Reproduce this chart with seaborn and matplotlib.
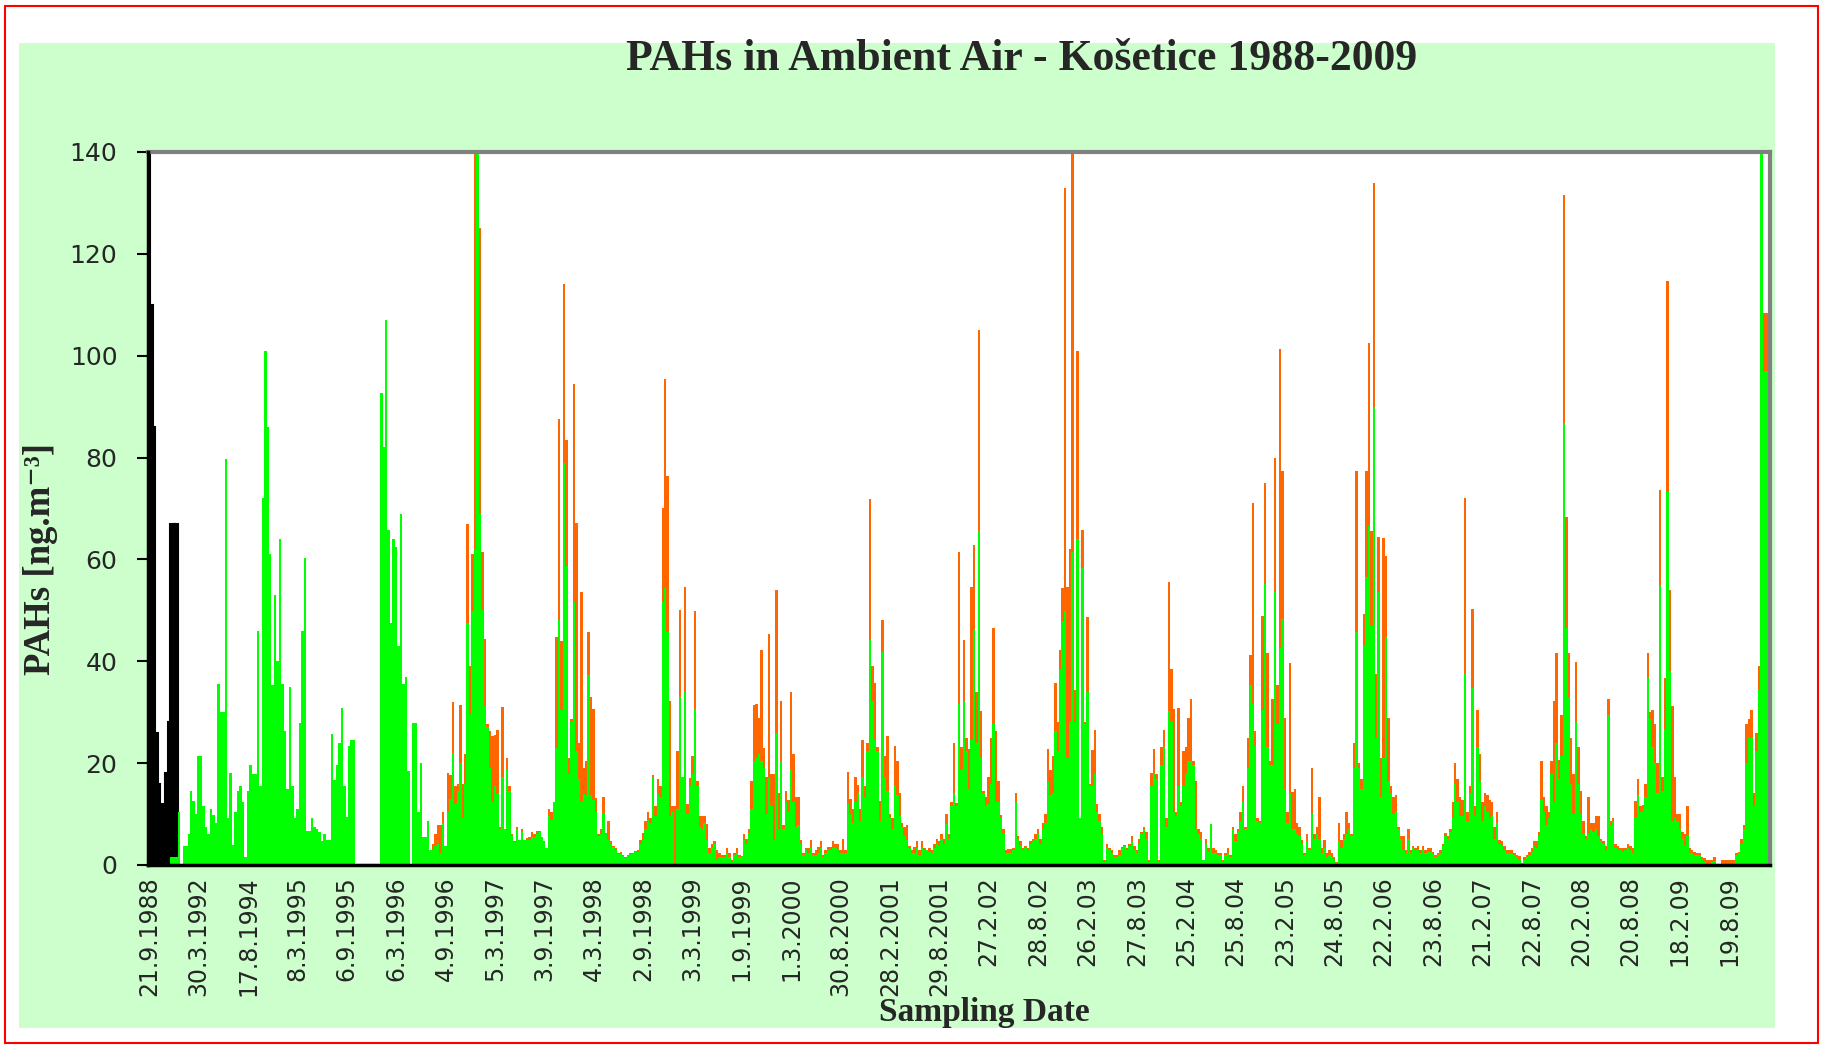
import numpy as np
import pandas as pd
import matplotlib
matplotlib.use("Agg")
import matplotlib.pyplot as plt
import seaborn as sns
from matplotlib.patches import Rectangle

# ---------------------------------------------------------------------------
# PAH concentrations [ng/m3], one value per sample (categorical sample axis)
# ---------------------------------------------------------------------------

# early campaign (1988-1992), shown in black
black_1988 = [150, 110, 86, 26, 16, 12, 11, 18, 28, 67, 67, 67]

# green series, 1988 - autumn 1996 (no orange series in this period)
green_1988_1996 = [0, 0, 0, 0, 0, 0, 0, 0, 0, 1.5, 1.5, 1.5,
    10.5, 0, 3.8, 3.8, 6, 14.6, 12.5, 10, 21.4, 21.4,
    11.6, 7.4, 6, 11, 9.8, 8.3, 35.5, 30, 30, 79.8,
    9.2, 18, 4, 10.5, 14.6, 15.5, 12.3, 1.5, 14.6, 19.6,
    17.8, 17.8, 46, 15.5, 72, 101, 86, 61, 35.3, 53,
    40, 64, 35.5, 26.3, 14.9, 35, 15.5, 9.2, 11, 27.9,
    46, 60.3, 6.7, 6.7, 9.2, 7.4, 7, 6.5, 4.7, 6,
    5, 5, 25.7, 16.7, 19.6, 24, 30.8, 15.5, 9.4, 23.4,
    24.5, 24.5, 0, 0, 0, 0, 0, 0, 0, 0, 0, 0,
    92.6, 82, 107, 65.7, 47.5, 64, 62.4, 43, 69, 35.6,
    37, 18.5, 0, 27.9, 27.9, 10.5]

orange_1996_1998 = [0, 0, 0, 0, 0, 4.2, 6, 7.8, 7.8, 10.5,
    3.8, 18, 17.6, 32, 15.5, 16, 31.5, 16, 21.8, 67,
    39, 61, 145, 145, 125, 61.4, 44.4, 27.7, 26.3, 25.4,
    25.5, 26.6, 7.4, 31, 7, 21, 15.5, 6, 4.7, 7.4,
    5, 7, 5, 5.3, 5.5, 6.5,
    6, 6.7, 6.7, 5.5, 4.7, 3.3, 11, 10.4, 12.3, 44.8,
    87.6, 44, 114, 83.4, 21, 28.6, 94.4, 67.2, 24, 53.7,
    19, 20.5, 45.7, 33, 30.6, 13.2, 6, 7, 13.4, 6.2,
    8.6, 4.7, 3.8, 3.3, 2.4, 2.6, 2,
    1.5, 2, 2.4, 2.4, 2.7, 2.9, 5, 6.2, 8.7, 10.5,
    9.2, 17.6, 11.5, 16.9, 15.5, 70, 95.5, 76.4, 32.2, 11.5,
    11.5, 22.3, 50, 17.3, 54.5]
green_1996_1998 = [20, 5.4, 5.4, 8.7, 2.9, 3, 3.8, 4.2, 2.4, 8.3,
    3.8, 10.5, 13, 22, 12, 14.6, 20, 9.2, 16, 47.5,
    29.7, 49.8, 62, 145, 69, 50, 31.3, 27, 19, 12.3,
    15.5, 14, 7, 17.3, 7, 18.7, 14.6, 5.6, 4.5, 7,
    5, 6.5, 5, 5, 5, 5.5,
    5.5, 6, 6.5, 5.5, 4.5, 3.3, 9.7, 8.8, 12.3, 23,
    48.2, 30.4, 79, 58.8, 17.8, 28, 51.6, 22.3, 16.9, 12.3,
    14, 13.7, 37.4, 13.7, 12.8, 10.5, 5.6, 6, 10, 6,
    5, 4.2, 3.5, 3, 2.2, 2.4, 1.8,
    1.4, 1.8, 2.2, 2.2, 2.5, 2.6, 4.2, 5, 7, 8.9,
    8.3, 17.3, 9.7, 14, 13.3, 51.6, 54.3, 45.7, 9.7, 10.5,
    0, 11, 33, 17.3, 34]

orange_1999_2001 = [11.9, 17, 21.4, 49.8, 16.4, 9.6, 9.6, 9.6, 8, 3.3,
    4.2, 4.7, 2.9, 2.4, 2, 2,
    3.3, 2.4, 1, 2.4, 3.3, 2, 1.8, 6, 5.1, 7,
    16.4, 31.5, 31.7, 28.8, 42.3, 23, 17.3, 45.3, 17.8, 17.8,
    54, 14.2, 32.2, 7.8, 14.6, 12.8, 34, 21.8, 13.4, 13.3,
    5, 2.4, 3.3, 3.3, 5, 2.4, 2.9, 3.5, 4.7, 2,
    2.9, 3.5, 3.5, 4.7, 4.2, 4.2, 2.9, 5.1, 2.9,
    18.2, 13, 11, 17.3, 15.8, 11, 24.5, 15.5, 24, 71.9,
    39, 35.8, 23.2, 12.5, 48.2, 21.4, 25.4, 10, 9.2, 23.4,
    20.5, 14.2, 8.3, 7.4, 7.8, 3.8, 2.9, 3.5, 4.7, 2.9,
    4.7, 3.3, 3, 3.3, 2.9, 4.2, 5.1, 4.7, 6, 5.1,
    10, 6, 12.3, 23.9, 12.2]
green_1999_2001 = [10, 15.5, 17.8, 30.6, 15.5, 7.4, 7, 8.3, 5, 2.4,
    3.3, 4.2, 1, 1.5, 1.5, 1.5,
    2.4, 1.5, 0.6, 2, 2.4, 1.5, 1.7, 5, 4.2, 6.2,
    11, 20.5, 21, 21.8, 20.5, 19, 10, 17, 11.5, 5,
    25.9, 7, 20.5, 7, 12.3, 10.5, 18.7, 12.3, 7.4, 7.8,
    4.2, 2, 2.9, 2.4, 3.3, 2, 2, 2.4, 3.3, 1.5,
    2.4, 2.9, 2.9, 3.3, 3.3, 2.9, 2.4, 2.4, 2.4,
    11.9, 10, 8.3, 12.3, 14.2, 8.7, 17.3, 13.3, 22.3, 44.1,
    32.2, 24.5, 22.3, 8.7, 41.9, 17.3, 14.6, 9.2, 7, 15.5,
    13.7, 9.6, 7.4, 5.6, 5, 3.3, 2.4, 2.4, 3.3, 2,
    3.3, 2.9, 2.9, 2.6, 2.4, 3.3, 4.2, 3.8, 5.1, 4.2,
    8, 5.1, 11.5, 14.2, 11.5]

orange_2002_2004 = [61.5, 23.2, 44.1, 25, 22.7, 54.5, 62.8, 34, 105, 30.2,
    14.6, 13.3, 17.3, 25, 46.6, 26.3, 16.4, 9.8, 7, 2.9,
    3.1, 3.1, 3.3, 14.2, 5.6, 4.7, 3.3, 3.8, 3.3, 4.7,
    5.1, 6, 7, 5.1, 8.3, 10, 22.7, 18.7, 21.4, 35.8,
    28.1, 42.3, 54.3, 133, 54.5, 62, 145, 34.4, 101, 9.2,
    65.7, 28.1, 48.6, 16, 22.5, 26.6, 11.9, 10, 7.4, 1,
    4.2, 3.3, 2.9, 2, 2, 2.9, 3.5, 4, 3.3, 4.2,
    5.6, 3.8, 2.9, 5.1, 6.5, 7.4, 6.5, 1, 18, 22.7,
    17.8, 1, 23.2, 26.6, 9.2, 55.6, 38.5, 30.6, 10.5, 30.8,
    12.3, 22.3, 23.2, 28.8, 32.6, 20.5, 16.4, 7, 6.5, 1,
    5.1, 3.3, 8, 3.3, 2.9, 2.4, 2.4, 1, 2.4, 3.3]
green_2002_2004 = [31.7, 18.7, 32.2, 22.3, 15, 24.5, 46.2, 24, 65.6, 21,
    14.2, 11.5, 12, 16, 27.7, 12.3, 12.3, 9.2, 6, 2.4,
    2.4, 2.4, 2.9, 12.3, 5.1, 3.8, 2.9, 3.3, 2.9, 4.2,
    4.7, 5.1, 6, 4.2, 7, 8.3, 16.4, 13.7, 14.2, 26.3,
    22.3, 38.5, 48, 49.8, 21, 28.1, 61.5, 28.1, 64, 9.2,
    58.3, 27.7, 34, 15.5, 15.5, 17.8, 10.5, 8.7, 6, 0.6,
    3.3, 2.9, 2.4, 1.5, 1.5, 2, 3.3, 3.8, 2.9, 3.8,
    4.7, 2.9, 2.4, 4.2, 6, 7, 5.1, 0.6, 15.5, 18,
    16.9, 0.6, 19.6, 23.2, 7.4, 30.2, 28.1, 10.5, 9.6, 15.5,
    11.5, 15.5, 17.8, 20.5, 20.5, 19.6, 7, 6, 5.1, 1,
    4.2, 2.6, 8, 2.4, 2.4, 2, 2, 0.6, 2, 2.4]

orange_2005_2007 = [2, 7.4, 6, 7, 10.5, 15.5, 7.4, 25, 41.2, 71,
    26.3, 9.2, 8.7, 48.9, 75, 41.7, 20.5, 32.6, 80, 35.3,
    101.4, 77.3, 28.8, 10.5, 39.6, 14.3, 15, 8.3, 7.4, 5,
    2.4, 6, 3.3, 19, 6, 7.4, 13.3, 3.3, 5, 2.4,
    2.9, 2.4, 1.5, 0.6, 8.3, 5, 6, 10.5, 8.3, 6,
    24, 77.3, 20, 16.9, 49.3, 77.3, 102.5, 65.6, 134, 37.6,
    64.5, 21, 64.2, 60.6, 28.8, 15.5, 13.3, 13.7, 7.4, 5.6,
    5.6, 2.9, 7, 2.9, 3.8, 3.3, 3.8, 2.9, 3.8, 2.9,
    3.3, 3.3, 2.6, 2, 2.4, 2.9, 4.2, 6.2, 5.6, 7,
    12.3, 20, 16.9, 13.3, 12.8, 72, 10.5, 15.5, 50.2, 11.5,
    30.4, 21.8, 12.3, 14.2, 13.7, 12.8, 12.3, 7.4]
green_2005_2007 = [1.5, 7, 4.7, 6.5, 8.7, 12.3, 7, 19, 35.3, 31.7,
    23.4, 8.7, 8.3, 30.4, 55.2, 23.2, 19.6, 19.6, 53.7, 27.7,
    42.6, 48.4, 15, 8.3, 14.2, 7, 7, 6, 5.6, 4.2,
    2, 4.7, 2.9, 10, 5.1, 6, 5.1, 2.4, 3.3, 1.5,
    2, 1.5, 1, 0.4, 4.7, 3.3, 5.1, 6, 7, 5.6,
    19, 45.7, 19, 15, 43, 56.5, 66.5, 47, 90, 25,
    53.7, 13.3, 21, 44.8, 16.4, 14.2, 10, 10.5, 7, 5.1,
    2.9, 2.4, 5.1, 2.4, 3.3, 2.9, 2.9, 2.4, 2.9, 2.4,
    2.6, 2.6, 2.2, 1.5, 2, 2.4, 3.8, 5.6, 5.1, 6.5,
    9.2, 16, 12.3, 9.6, 9.6, 37.6, 8.7, 14.2, 34.7, 9.7,
    23.2, 16.4, 8.7, 11.5, 10.5, 9.2, 9.6, 5.1]

orange_2007_2009 = [10.5, 5, 4.7, 3.8, 2.9, 2.9, 2.9, 2.4, 2, 1.7,
    0.3, 1.5, 2, 2.6, 3.3, 4.7, 4.7, 6.5, 20.5, 13.3,
    11.5, 10.5, 20.5, 32.2, 41.7, 20.6, 29.5, 131.6, 68.3, 41.7,
    25, 17.8, 39.9, 23.2, 14.6, 8.7, 5.6, 13.3, 8.3, 8.3,
    9.6, 9.6, 5.1, 4.7, 3.8, 32.6, 8.7, 9.2, 4.2, 3.8,
    3.3, 3.3, 3.3, 4.2, 3.8, 3.3, 12.5, 16.9, 11.5, 11.7,
    16, 41.7, 30, 30.4, 27.7, 20, 73.7, 17.3, 36.7, 114.7,
    54, 31.3, 17.3, 10.1, 10.1, 6.5, 6, 11.5, 3.3, 2.9,
    2.6, 2.4, 2.4, 1.5, 1.4, 1, 1, 1, 1.5, 0,
    0, 1, 1, 1, 1, 1, 1, 2.4, 2.6, 5.1,
    7.8, 27.7, 28.6, 30.4, 14.2, 25.9, 39, 145, 108.4, 108.4,
    108.4]
green_2007_2009 = [8.3, 4.2, 3.8, 2.9, 2.4, 2.4, 2.2, 2, 1.5, 1,
    0.2, 1, 1.5, 2, 2.6, 3.8, 3.3, 5.6, 12.8, 10.5,
    7.8, 9.2, 17.8, 12.3, 24, 16.9, 21.4, 86.7, 46.6, 33,
    16, 10, 28.1, 16, 10, 6, 5.1, 6, 7, 6.5,
    7, 5.6, 4.7, 4.2, 2.9, 29.5, 7.8, 8.7, 3.3, 2.9,
    2.9, 2.6, 2.9, 3.3, 2.9, 2.4, 9.2, 13.7, 10.5, 10.5,
    13.3, 36.7, 28.6, 23.2, 20, 14.2, 54.9, 14.6, 26.8, 73.2,
    38, 8.7, 9.2, 8.7, 7, 5.1, 3.8, 5.6, 2.4, 2.4,
    2, 2, 2, 1, 0.6, 0, 0, 0.6, 0.8, 0,
    0, 0, 0, 0, 0, 0, 0.2, 2, 2.4, 4.2,
    7, 20, 25, 25, 11.5, 22.3, 34.4, 145, 97, 97,
    97]

# sampling-date labels, one every 20 samples
date_labels = ["21.9.1988", "30.3.1992", "17.8.1994", "8.3.1995", "6.9.1995",
    "6.3.1996", "4.9.1996", "5.3.1997", "3.9.1997", "4.3.1998", "2.9.1998",
    "3.3.1999", "1.9.1999", "1.3.2000", "30.8.2000", "28.2.2001", "29.8.2001",
    "27.2.02", "28.8.02", "26.2.03", "27.8.03", "25.2.04", "25.8.04",
    "23.2.05", "24.8.05", "22.2.06", "23.8.06", "21.2.07", "22.8.07",
    "20.2.08", "20.8.08", "18.2.09", "19.8.09"]
label_step = 20

# ---------------------------------------------------------------------------
# assemble the sample table
# ---------------------------------------------------------------------------
green = np.concatenate([green_1988_1996, green_1996_1998, green_1999_2001,
                        green_2002_2004, green_2005_2007, green_2007_2009])
orange_parts = [orange_1996_1998, orange_1999_2001, orange_2002_2004,
                orange_2005_2007, orange_2007_2009]
orange = np.concatenate([np.zeros(len(green_1988_1996))] + [np.asarray(p, float) for p in orange_parts])
black = np.zeros(len(green))
black[:len(black_1988)] = black_1988
n = len(green)

df = pd.DataFrame({"sample": np.arange(n), "black": black,
                   "orange": orange, "green": green})

# ---------------------------------------------------------------------------
# figure
# ---------------------------------------------------------------------------
sns.set_theme(style="white")
plt.rcParams["font.family"] = ["DejaVu Sans"]

W, H = 1825, 1046
fig = plt.figure(figsize=(W / 100, H / 100), dpi=100)
fig.patch.set_facecolor("white")

# light green chart area and thin red outer frame
fig.add_artist(Rectangle((19 / W, 1 - 1028 / H), 1756 / W, 985 / H,
                         transform=fig.transFigure, facecolor="#CCFFCC",
                         edgecolor="none", zorder=0))
fig.add_artist(Rectangle((5 / W, 1 - 1043 / H), 1813 / W, 1037 / H,
                         transform=fig.transFigure, fill=False,
                         edgecolor="#FF0000", linewidth=1.5, zorder=0))

ax = fig.add_axes([148 / W, 1 - 865 / H, 1622 / W, 713 / H])
ax.set_facecolor("white")

common = dict(data=df, x="sample", width=1.0, saturation=1, errorbar=None, ax=ax)
sns.barplot(y="black", color="black", linewidth=1.5, edgecolor="black", **common)
sns.barplot(y="orange", color="#FF6600", linewidth=0, **common)
sns.barplot(y="green", color="#00FF00", linewidth=0, **common)

ax.set_xlim(-0.5, n - 0.5)
ax.set_ylim(0, 140)
ax.set_xlabel("")
ax.set_ylabel("")

ax.set_yticks(range(0, 141, 20))
ax.set_yticklabels([str(v) for v in range(0, 141, 20)], fontsize=18)
ax.set_xticks(np.arange(0, len(date_labels) * label_step, label_step))
ax.set_xticklabels(date_labels, rotation=90, fontsize=17)
ax.tick_params(axis="y", left=True, length=8, width=1.5, color="black", pad=14)
ax.tick_params(axis="x", bottom=False, length=0, pad=8)

for side in ("top", "right"):
    ax.spines[side].set_color("#808080")
    ax.spines[side].set_linewidth(3)
for side in ("left", "bottom"):
    ax.spines[side].set_color("black")
    ax.spines[side].set_linewidth(2.5)
    ax.spines[side].set_zorder(5)

serif = ["Liberation Serif", "DejaVu Serif"]
fig.text(1022 / W, 1 - 59 / H, "PAHs in Ambient Air - Košetice 1988-2009",
         ha="center", va="center", fontsize=31.5, fontweight="bold", family=serif)
fig.text(41 / W, 1 - 559 / H, "PAHs [ng.m⁻³]", rotation=90,
         ha="center", va="center", fontsize=26.5, fontweight="bold", family=serif)
fig.text(984 / W, 1 - 1013 / H, "Sampling Date", ha="center", va="center",
         fontsize=24, fontweight="bold", family=serif)

fig.savefig("out.png", dpi=100, facecolor=fig.get_facecolor())
